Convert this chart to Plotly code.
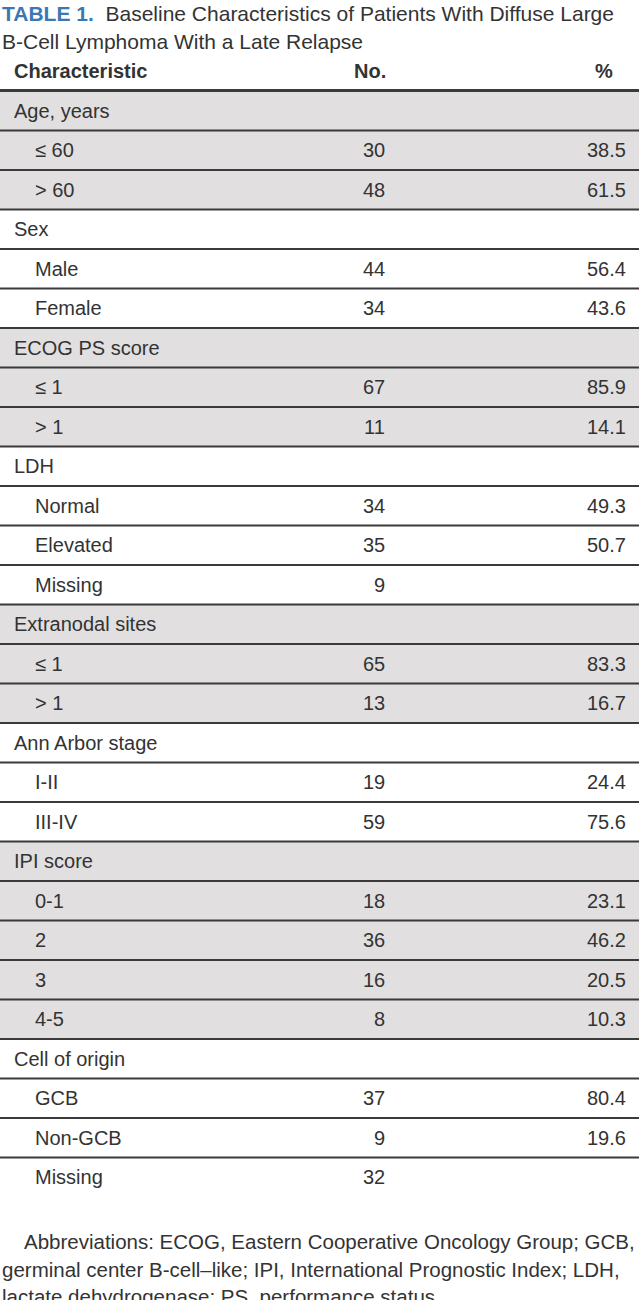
import plotly.graph_objects as go

# ---------------- data ----------------
title_label = "TABLE 1."
title_line1 = "Baseline Characteristics of Patients With Diffuse Large"
title_line2 = "B-Cell Lymphoma With a Late Relapse"
col_headers = ["Characteristic", "No.", "%"]

group_names = ["Age, years", "Sex", "ECOG PS score", "LDH", "Extranodal sites",
               "Ann Arbor stage", "IPI score", "Cell of origin"]
sub_labels = [
    ["\u2264 60", "> 60"],
    ["Male", "Female"],
    ["\u2264 1", "> 1"],
    ["Normal", "Elevated", "Missing"],
    ["\u2264 1", "> 1"],
    ["I-II", "III-IV"],
    ["0-1", "2", "3", "4-5"],
    ["GCB", "Non-GCB", "Missing"],
]
sub_counts = [
    [30, 48],
    [44, 34],
    [67, 11],
    [34, 35, 9],
    [65, 13],
    [19, 59],
    [18, 36, 16, 8],
    [37, 9, 32],
]
sub_pcts = [
    [38.5, 61.5],
    [56.4, 43.6],
    [85.9, 14.1],
    [49.3, 50.7, None],
    [83.3, 16.7],
    [24.4, 75.6],
    [23.1, 46.2, 20.5, 10.3],
    [80.4, 19.6, None],
]
footnote_lines = [
    "Abbreviations: ECOG, Eastern Cooperative Oncology Group; GCB,",
    "germinal center B-cell\u2013like; IPI, International Prognostic Index; LDH,",
    "lactate dehydrogenase; PS, performance status.",
]

# ---------------- style ----------------
W, H = 639, 1300
FONT = "Liberation Sans, Arial, sans-serif"
TXT = "#333333"
BLUE = "#3a78b5"
GRAY = "#e1dfe0"
LINE = "#3a3a3a"
FS = 20
FS_TITLE = 21
FS_FOOT = 20.5
TOP = 91.0
ROW_H = 39.5
X_LEFT, X_INDENT = 12, 33
X_NO, X_PCT, X_PCT_HDR = 387, 628, 615

fig = go.Figure()
shapes, ann = [], []

# flatten rows
rows = []  # (label, level, no, pct, group_index)
for g, name in enumerate(group_names):
    rows.append((name, 0, None, None, g))
    for lab, n, p in zip(sub_labels[g], sub_counts[g], sub_pcts[g]):
        rows.append((lab, 1, n, p, g))

n_rows = len(rows)
for i, (lab, lvl, n, p, g) in enumerate(rows):
    y0 = TOP + i * ROW_H
    y1 = y0 + ROW_H
    yc = (y0 + y1) / 2
    if g % 2 == 0:
        shapes.append(dict(type="rect", xref="x", yref="y", x0=0, x1=W, y0=y0, y1=y1,
                           fillcolor=GRAY, line=dict(width=0), layer="below"))
    if i < n_rows - 1:
        shapes.append(dict(type="line", xref="x", yref="y", x0=0, x1=W, y0=y1, y1=y1,
                           line=dict(color=LINE, width=2)))
    ann.append(dict(x=X_LEFT if lvl == 0 else X_INDENT, y=yc, text=lab, xanchor="left",
                    yanchor="middle", showarrow=False, font=dict(size=FS, color=TXT, family=FONT)))
    if n is not None:
        ann.append(dict(x=X_NO, y=yc, text=str(n), xanchor="right", yanchor="middle",
                        showarrow=False, font=dict(size=FS, color=TXT, family=FONT)))
    if p is not None:
        ann.append(dict(x=X_PCT, y=yc, text=f"{p:.1f}", xanchor="right", yanchor="middle",
                        showarrow=False, font=dict(size=FS, color=TXT, family=FONT)))

# header line
shapes.append(dict(type="line", xref="x", yref="y", x0=0, x1=W, y0=TOP - 0.5, y1=TOP - 0.5,
                   line=dict(color=LINE, width=3)))

# header text
hy = 71
ann.append(dict(x=X_LEFT, y=hy, text=f"<b>{col_headers[0]}</b>", xanchor="left", yanchor="middle",
                showarrow=False, font=dict(size=FS, color=TXT, family=FONT)))
ann.append(dict(x=X_NO + 1, y=hy, text=f"<b>{col_headers[1]}</b>", xanchor="right", yanchor="middle",
                showarrow=False, font=dict(size=FS, color=TXT, family=FONT)))
ann.append(dict(x=X_PCT_HDR, y=hy, text=f"<b>{col_headers[2]}</b>", xanchor="right", yanchor="middle",
                showarrow=False, font=dict(size=FS, color=TXT, family=FONT)))

# title
ann.append(dict(x=0, y=13, text=f"<b><span style='color:{BLUE}'>{title_label}</span></b>  {title_line1}",
                xanchor="left", yanchor="middle", showarrow=False,
                font=dict(size=FS_TITLE, color=TXT, family=FONT)))
ann.append(dict(x=0, y=41, text=title_line2, xanchor="left", yanchor="middle", showarrow=False,
                font=dict(size=FS_TITLE, color=TXT, family=FONT)))

# footnote
foot_y = [1241, 1269, 1296]
foot_x = [22, 0, 0]
for t, fy, fx in zip(footnote_lines, foot_y, foot_x):
    ann.append(dict(x=fx, y=fy, text=t, xanchor="left", yanchor="middle", showarrow=False,
                    font=dict(size=FS_FOOT, color=TXT, family=FONT)))

fig.update_layout(
    width=W, height=H, margin=dict(l=0, r=0, t=0, b=0),
    paper_bgcolor="white", plot_bgcolor="white",
    xaxis=dict(range=[0, W], visible=False, fixedrange=True),
    yaxis=dict(range=[H, 0], visible=False, fixedrange=True),
    shapes=shapes, annotations=ann, showlegend=False,
)
fig.write_html("out.html", config={"displayModeBar": False},
               post_script="document.body.style.margin='0';document.body.style.overflow='hidden';")
